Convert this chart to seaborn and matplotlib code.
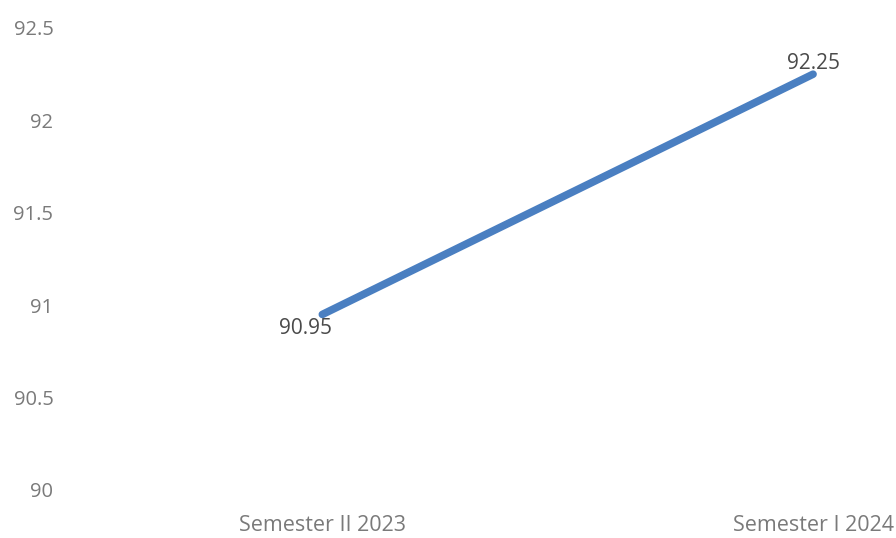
import matplotlib
matplotlib.use("Agg")
import matplotlib.pyplot as plt
import seaborn as sns
import pandas as pd

categories = ["Semester II 2023", "Semester I 2024"]
values = [90.95, 92.25]
y_ticks = [90, 90.5, 91, 91.5, 92, 92.5]
y_tick_labels = ["90", "90.5", "91", "91.5", "92", "92.5"]

sns.set_style("white")
plt.rcParams['font.family'] = ['Open Sans', 'DejaVu Sans']

df = pd.DataFrame({"cat": categories, "val": values})

fig = plt.figure(figsize=(8.96, 5.38), dpi=100)
ax = fig.add_axes([77/896, 48/538, 1 - 77/896, 462/538])
sns.lineplot(data=df, x="cat", y="val", ax=ax, color="#4a7fc1", linewidth=5.5,
             solid_capstyle="round", sort=False)

ax.set_ylim(90, 92.5)
ax.set_xlim(-0.5, 1 + (896 - 813) / 491)
ax.set_yticks(y_ticks)
ax.set_yticklabels(y_tick_labels)
ax.set_xlabel("")
ax.set_ylabel("")
for s in ax.spines.values():
    s.set_visible(False)
ax.tick_params(axis="y", length=0, pad=17, labelsize=14.5, labelcolor="#7a7a7a")
ax.tick_params(axis="x", length=0, pad=18, labelsize=15.5, labelcolor="#7a7a7a")
ax.grid(False)
ax.set_facecolor("white")

offsets = [(-12, -10), (0, 8)]
for i, (v, off) in enumerate(zip(values, offsets)):
    ax.annotate(f"{v:.2f}", (i, v), xytext=off, textcoords="offset points",
                ha="center", va="center", fontsize=15, color="#4a4a4a")

fig.savefig("out.png", dpi=100, facecolor="white")
